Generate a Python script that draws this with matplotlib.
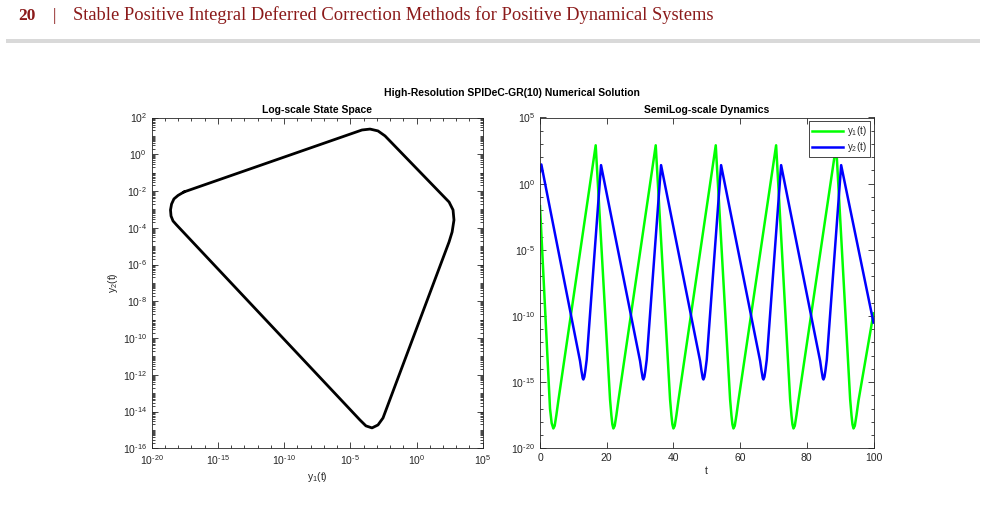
import numpy as np
import matplotlib
matplotlib.use('Agg')
import matplotlib.pyplot as plt
from matplotlib.patches import Rectangle
from matplotlib.ticker import NullFormatter, FuncFormatter

plt.rcParams['font.family'] = ['Liberation Sans', 'DejaVu Sans']
plt.rcParams['mathtext.fontset'] = 'custom'
plt.rcParams['mathtext.rm'] = 'Liberation Sans'
plt.rcParams['mathtext.it'] = 'Liberation Sans:italic'
plt.rcParams['mathtext.bf'] = 'Liberation Sans:bold'
plt.rcParams['axes.unicode_minus'] = False

# -------- data (log10 values) --------
# left panel: closed loop in the (y1, y2) plane
loop_log_y1 = [-17.56, -18.01, -18.32, -18.50, -18.58, -18.54, -18.39, -18.13,
               -4.27, -3.82, -3.36, -2.91, -2.53,
               2.46, 2.69, 2.83, 2.76, 2.46,
               -2.38, -2.91, -3.51, -4.12, -17.56]
loop_log_y2 = [-2.05, -2.24, -2.43, -2.71, -3.03, -3.36, -3.63, -3.84,
               -14.46, -14.78, -14.89, -14.73, -14.35,
               -4.77, -4.23, -3.58, -3.03, -2.60,
               1.00, 1.27, 1.37, 1.32, -2.05]

# right panel: time series
t_y1 = [0, 3.0, 3.5, 4.0, 4.4, 4.9, 5.5,
        16.7, 21.0, 21.4, 21.7, 22.0, 22.4, 22.9, 23.5,
        34.7, 39.0, 39.4, 39.7, 40.0, 40.4, 40.9, 41.5,
        52.7, 57.0, 57.4, 57.7, 58.0, 58.4, 58.9, 59.5,
        70.8, 75.0, 75.4, 75.7, 76.0, 76.4, 76.9, 77.5,
        88.8, 93.0, 93.4, 93.7, 94.0, 94.4, 94.9, 95.5,
        100]
log_y1 = [-1.7, -17.0, -18.1, -18.5, -18.3, -17.5, -16.4,
          2.9, -16.3, -17.5, -18.2, -18.5, -18.3, -17.5, -16.4,
          2.9, -16.3, -17.5, -18.2, -18.5, -18.3, -17.5, -16.4,
          2.9, -16.3, -17.5, -18.2, -18.5, -18.3, -17.5, -16.4,
          2.9, -16.3, -17.5, -18.2, -18.5, -18.3, -17.5, -16.4,
          2.9, -16.3, -17.5, -18.2, -18.5, -18.3, -17.5, -16.4,
          -9.8]

t_y2 = [0, 0.4, 12.0, 12.4, 12.8, 13.0, 13.3, 13.6, 14.0,
        18.3, 30.0, 30.4, 30.8, 31.0, 31.3, 31.6, 32.0,
        36.3, 48.0, 48.4, 48.8, 49.0, 49.3, 49.6, 50.0,
        54.3, 66.0, 66.4, 66.8, 67.0, 67.3, 67.6, 68.0,
        72.3, 84.0, 84.4, 84.8, 85.0, 85.3, 85.6, 86.0,
        90.3, 100]
log_y2 = [0.9, 1.45, -13.4, -14.1, -14.7, -14.8, -14.6, -14.1, -13.3,
          1.4, -13.4, -14.1, -14.7, -14.8, -14.6, -14.1, -13.3,
          1.4, -13.4, -14.1, -14.7, -14.8, -14.6, -14.1, -13.3,
          1.4, -13.4, -14.1, -14.7, -14.8, -14.6, -14.1, -13.3,
          1.4, -13.4, -14.1, -14.7, -14.8, -14.6, -14.1, -13.3,
          1.4, -10.5]

header_page = '20'
header_title = 'Stable Positive Integral Deferred Correction Methods for Positive Dynamical Systems'
# ----------------------------------------------------------

axcol = '#262626'
W, H = 986, 507

fig = plt.figure(figsize=(W / 100, H / 100), dpi=100)

# page header
red = '#8b1a1a'
fig.text(18 / W, 1 - 20 / H, header_page, color=red, fontsize=12.5,
         fontweight='bold', family='Liberation Serif', va='baseline')
fig.text(53 / W, 1 - 20 / H, '|', color=red, fontsize=12.5,
         family='Liberation Serif', va='baseline')
fig.text(73 / W, 1 - 20 / H, header_title, color=red, fontsize=13.3,
         family='Liberation Serif', va='baseline')
fig.add_artist(Rectangle((6 / W, 1 - 43 / H), 974 / W, 4 / H,
                         transform=fig.transFigure, color='#d9d9d9', lw=0))

fig.text(512 / W, 1 - 93 / H, 'High-Resolution SPIDeC-GR(10) Numerical Solution',
         ha='center', va='center', fontsize=7.5, fontweight='bold', color='black')


def pow10(v, pos):
    e = int(round(np.log10(v)))
    return '$10^{%s}$' % str(e).replace('-', '\u2010')


def style(ax):
    for s in ax.spines.values():
        s.set_color(axcol)
        s.set_linewidth(0.6)
    ax.tick_params(which='both', direction='in', top=True, right=True,
                   colors=axcol, labelsize=7.5, width=0.6)
    ax.tick_params(which='major', length=4)
    ax.tick_params(which='minor', length=2)


# left: state space
ax1 = fig.add_axes([151.7 / W, 58.7 / H, 331 / W, 330.8 / H])
ax1.loglog(10.0 ** np.array(loop_log_y1), 10.0 ** np.array(loop_log_y2),
           color='black', lw=2.0, solid_joinstyle='round', solid_capstyle='round')
ax1.set_xlim(1e-20, 1e5)
ax1.set_ylim(1e-16, 1e2)
ax1.set_xticks([10.0 ** e for e in range(-20, 6, 5)])
ax1.set_xticks([10.0 ** e for e in range(-20, 6)], minor=True)
ax1.set_yticks([10.0 ** e for e in range(-16, 3, 2)])
ax1.set_yticks([m * 10.0 ** e for e in range(-16, 2) for m in range(1, 10)], minor=True)
ax1.xaxis.set_major_formatter(FuncFormatter(pow10))
ax1.yaxis.set_major_formatter(FuncFormatter(pow10))
ax1.xaxis.set_minor_formatter(NullFormatter())
ax1.yaxis.set_minor_formatter(NullFormatter())
style(ax1)
ax1.set_title('Log-scale State Space', fontsize=7.5, fontweight='bold', pad=3)
ax1.set_xlabel('y$_1$(t)', fontsize=7.5, color=axcol, labelpad=2)
ax1.set_ylabel('y$_2$(t)', fontsize=7.5, color=axcol, labelpad=2)

# right: semilog dynamics
ax2 = fig.add_axes([540 / W, 58.7 / H, 333.5 / W, 330.8 / H])
ax2.semilogy(t_y1, 10.0 ** np.array(log_y1), color='#00ff00', lw=1.8, label='y$_1$(t)')
ax2.semilogy(t_y2, 10.0 ** np.array(log_y2), color='#0000ff', lw=1.8, label='y$_2$(t)')
ax2.set_xlim(0, 100)
ax2.set_ylim(1e-20, 1e5)
ax2.set_xticks(range(0, 101, 20))
ax2.set_yticks([10.0 ** e for e in range(-20, 6, 5)])
ax2.set_yticks([10.0 ** e for e in range(-20, 6)], minor=True)
ax2.yaxis.set_major_formatter(FuncFormatter(pow10))
ax2.yaxis.set_minor_formatter(NullFormatter())
style(ax2)
ax2.tick_params(axis='x', which='minor', top=False, bottom=False)
ax2.set_title('SemiLog-scale Dynamics', fontsize=7.5, fontweight='bold', pad=3)
ax2.set_xlabel('t', fontsize=7.5, color=axcol, labelpad=2)
leg = ax2.legend(loc='upper right', fontsize=7, handlelength=3.2, borderaxespad=0.4,
                 fancybox=False, framealpha=1, borderpad=0.3, labelspacing=0.2,
                 handletextpad=0.4)
leg.get_frame().set_edgecolor(axcol)
leg.get_frame().set_linewidth(0.6)
for txt in leg.get_texts():
    txt.set_color(axcol)

plt.savefig('out.png', dpi=100)
